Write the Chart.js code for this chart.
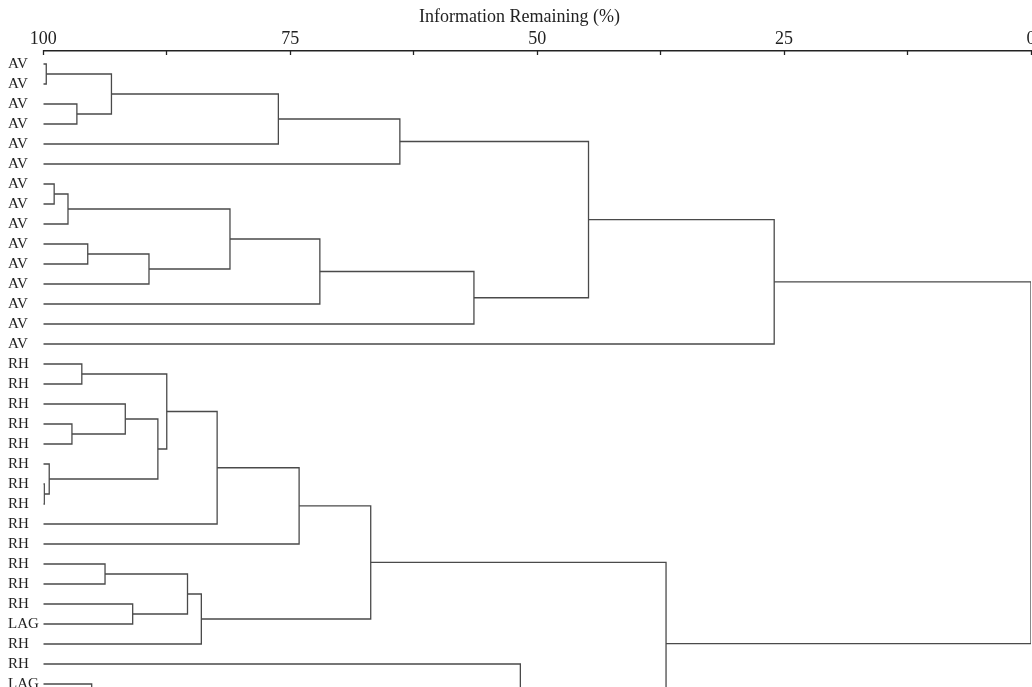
<!DOCTYPE html>
<html>
<head>
<meta charset="utf-8">
<script src="https://cdn.jsdelivr.net/npm/chart.js@4.4.0/dist/chart.umd.min.js"></script>
<style>
  html, body { margin: 0; padding: 0; background: #fff; }
  #wrap { width: 1032px; height: 687px; }
</style>
</head>
<body>
<div id="wrap"><canvas id="grafico"></canvas></div>
<script>
// leaves, top to bottom (last rows run past the bottom edge of the picture)
const leafLabels = [
  'AV','AV','AV','AV','AV','AV','AV','AV','AV','AV','AV','AV','AV','AV','AV',
  'RH','RH','RH','RH','RH','RH','RH','RH','RH','RH','RH','RH','RH','LAG','RH','RH','LAG',
  'LAG','RH','RH','LAG','RH','RH','LAG'
];

// linkage: node ids 0..38 are leaves, merge k creates node 39 + k
const mergeLeft  = [0,2,39,41,42,6,44,9,46,45,48,49,43,51,15,18,17,21,20,55,53,59,60,25,27,62,64,61,31,67,34,68,70,37,71,30,66,52];
const mergeRight = [1,3,40,4,5,7,8,10,11,47,12,13,50,14,16,19,54,22,56,57,58,23,24,26,28,63,29,65,32,33,35,69,36,38,72,73,74,75];
// information remaining (%) at each merge
const mergeHeight = [99.7,96.6,93.1,76.2,63.9,98.9,97.5,95.5,89.3,81.1,72.0,56.4,44.8,26.0,
  96.1,97.1,91.7,99.9,99.4,88.4,87.5,82.4,74.1,93.75,90.95,85.4,84.0,66.85,
  95.1,85,90,70,60,80,55,51.7,36.95,0];

const tickLabels = [100, 75, 50, 25, 0];

const nodeY = leafLabels.map((l, i) => i);
const nodeH = leafLabels.map(() => 100);

const datasets = [];
for (let k = 0; k < mergeHeight.length; k++) {
  const a = mergeLeft[k], b = mergeRight[k], h = mergeHeight[k];
  nodeY.push((nodeY[a] + nodeY[b]) / 2);
  nodeH.push(h);
  datasets.push({
    data: [
      { x: nodeH[a], y: nodeY[a] },
      { x: h, y: nodeY[a] },
      { x: h, y: nodeY[b] },
      { x: nodeH[b], y: nodeY[b] }
    ],
    showLine: true,
    borderColor: '#4a4a4a',
    borderWidth: 1.3,
    pointRadius: 0,
    fill: false
  });
}

const serif = 'Liberation Serif';

new Chart(document.getElementById('grafico'), {
  type: 'scatter',
  data: { datasets: datasets },
  options: {
    responsive: true,
    maintainAspectRatio: false,
    animation: false,
    events: [],
    layout: { padding: { left: 8, right: 1, top: 0, bottom: 0 } },
    plugins: {
      legend: { display: false },
      tooltip: { enabled: false },
      title: {
        display: true,
        text: 'Information Remaining (%)',
        color: '#222',
        font: { family: serif, size: 18, weight: 'normal' },
        padding: { top: 6, bottom: 0 }
      }
    },
    scales: {
      x: {
        type: 'linear',
        position: 'top',
        reverse: true,
        min: 0,
        max: 100,
        afterFit: s => { s.height = 23.4; s.paddingLeft = 0; s.paddingRight = 0; },
        ticks: {
          stepSize: 12.5,
          autoSkip: false,
          maxRotation: 0,
          padding: 5,
          color: '#222',
          font: { family: serif, size: 18 },
          callback: v => tickLabels.includes(v) ? String(v) : ''
        },
        grid: { drawOnChartArea: false, tickLength: -4, tickWidth: 1.3, tickColor: '#222' },
        border: { display: true, color: '#222', width: 1.5 }
      },
      y: {
        type: 'linear',
        reverse: true,
        min: -0.65,
        max: 31.15,
        afterBuildTicks: s => { s.ticks = leafLabels.map((l, i) => ({ value: i })); },
        afterFit: s => { s.width = 35.3; s.paddingTop = 0; s.paddingBottom = 0; },
        ticks: {
          autoSkip: false,
          crossAlign: 'far',
          color: '#222',
          font: { family: serif, size: 15 },
          callback: v => leafLabels[v]
        },
        grid: { display: false },
        border: { display: false }
      }
    }
  }
});
</script>
</body>
</html>
